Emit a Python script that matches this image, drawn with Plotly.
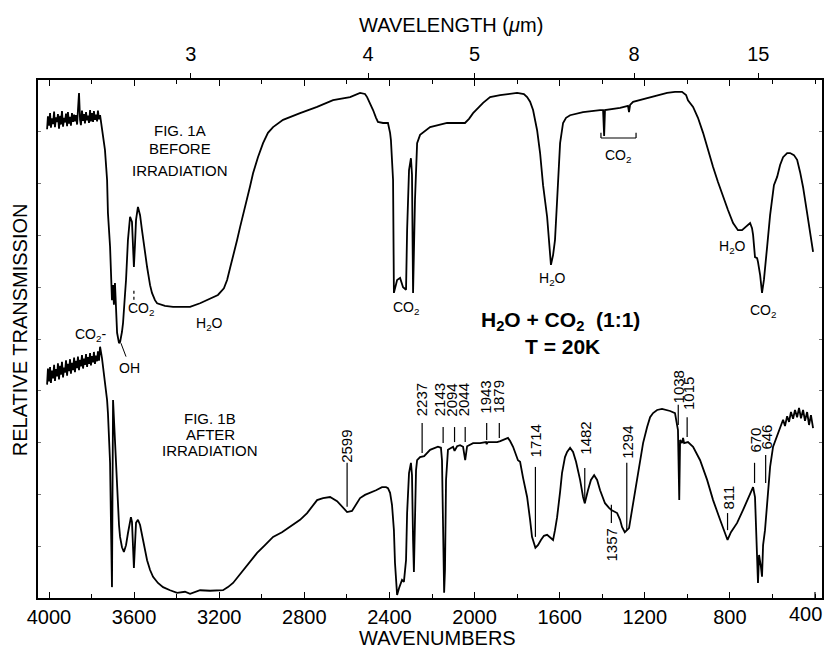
import plotly.graph_objects as go

# ---------------- data ----------------
# Wavenumber (cm-1) and relative transmission (arbitrary units, 0-100 over the frame)
top_wn = [4009, 4005, 4000, 3995, 3991, 3986, 3981, 3976, 3972, 3967,
          3962, 3958, 3953, 3948, 3944, 3939, 3934, 3929, 3925, 3920,
          3915, 3911, 3906, 3901, 3897, 3892, 3887, 3882, 3878, 3873,
          3868, 3864, 3859, 3854, 3850, 3845, 3840, 3835, 3831, 3826,
          3821, 3817, 3812, 3807, 3803, 3798, 3793, 3789, 3784, 3779,
          3774, 3770, 3765, 3760,
          3751, 3737, 3727, 3723, 3713, 3709, 3704, 3699, 3695, 3690,
          3685, 3680, 3671, 3666, 3657, 3652, 3643, 3638, 3629, 3619,
          3610, 3605, 3601, 3596, 3591, 3582, 3572, 3563, 3549, 3539,
          3525, 3516, 3502, 3492, 3455, 3417, 3384, 3337, 3290, 3257,
          3206, 3178, 3163, 3149, 3135, 3116, 3102, 3084, 3069, 3055,
          3041, 3018, 2994, 2971, 2947, 2900, 2820, 2740, 2665, 2585,
          2538, 2515, 2505, 2491, 2477, 2463, 2454, 2430, 2407, 2397,
          2393, 2383, 2379, 2364, 2350, 2336, 2322, 2317, 2308, 2299,
          2294, 2289, 2280, 2270, 2256, 2209, 2129, 2045, 2026, 2007,
          1960, 1927, 1880, 1800, 1768, 1753, 1739, 1725, 1706, 1692,
          1678, 1659, 1650, 1641, 1631, 1622, 1612, 1603, 1598, 1584,
          1570, 1551, 1490, 1410, 1396, 1391, 1387, 1316, 1279, 1274,
          1269, 1255, 1175, 1095, 1058, 1025, 1006, 997, 973, 950,
          926, 903, 879, 856, 832, 809, 785, 762, 743, 724,
          705, 696, 691, 682, 672, 668, 658, 649, 640, 625,
          611, 593, 578, 564, 550, 531, 517, 499, 484, 470,
          456, 437, 423, 414, 409]
top_T = [90.5, 93.0, 91.2, 93.6, 90.8, 92.6, 91.5, 93.9, 90.9, 92.8,
         91.9, 93.4, 90.6, 93.1, 91.4, 94.0, 91.0, 92.7, 91.8, 93.5,
         91.1, 93.8, 91.6, 92.9, 91.2, 93.6, 91.9, 93.3, 92.0, 93.2,
         91.4, 94.2, 97.5, 92.3, 91.3, 94.1, 92.1, 93.4, 91.6, 93.8,
         92.2, 93.1, 91.7, 94.2, 92.0, 93.6, 91.9, 94.0, 92.3, 93.3,
         92.0, 94.1, 92.4, 93.2,
         90.9, 86.5, 80.7, 74.3, 67.8, 61.4, 57.5, 60.4, 56.6, 60.8,
         55.6, 51.2, 49.2, 49.4, 51.4, 53.1, 58.5, 61.4, 69.1, 73.6,
         72.6, 69.1, 63.9, 68.1, 73.0, 75.5, 73.9, 71.0, 66.2, 63.9,
         60.4, 58.9, 57.5, 56.9, 56.4, 56.2, 56.2, 56.2, 56.9, 57.5,
         58.5, 59.8, 61.4, 63.7, 65.8, 69.1, 71.6, 74.5, 76.8, 79.5,
         82.0, 85.1, 87.8, 89.8, 90.9, 92.3, 93.6, 94.8, 96.1, 96.7,
         97.5, 97.3, 96.7, 95.6, 94.2, 92.7, 91.9, 91.7, 91.7, 89.8,
         88.4, 80.7, 58.9, 61.4, 61.8, 60.0, 59.5, 71.0, 82.6, 84.9,
         81.7, 58.9, 76.8, 87.8, 89.4, 90.9, 91.7, 91.7, 92.5, 93.6,
         95.6, 96.7, 97.1, 97.5, 97.3, 96.7, 95.8, 94.2, 90.3, 85.9,
         79.7, 73.6, 68.1, 64.3, 66.2, 69.1, 76.8, 84.6, 87.8, 91.7,
         92.7, 93.2, 93.8, 94.2, 94.2, 89.2, 94.2, 94.6, 95.0, 93.8,
         95.2, 95.8, 96.7, 97.5, 97.7, 97.7, 97.1, 96.1, 94.8, 92.7,
         89.8, 86.5, 83.2, 80.3, 77.4, 74.9, 72.4, 71.0, 71.0, 71.8,
         72.4, 71.4, 70.1, 65.8, 65.6, 64.9, 62.4, 58.9, 61.4, 67.8,
         73.9, 79.7, 81.3, 83.6, 85.1, 85.9, 85.9, 85.5, 84.6, 82.2,
         79.3, 74.3, 70.7, 68.5, 66.8]

bot_wn = [4009, 4005, 4000, 3995, 3991, 3986, 3981, 3976, 3972, 3967,
          3962, 3958, 3953, 3948, 3944, 3939, 3934, 3929, 3925, 3920,
          3915, 3911, 3906, 3901, 3897, 3892, 3887, 3882, 3878, 3873,
          3868, 3864, 3859, 3854, 3850, 3845, 3840, 3835, 3831, 3826,
          3821, 3817, 3812, 3807, 3803, 3798, 3793, 3789, 3784, 3779,
          3774, 3770, 3765, 3760,
          3751, 3737, 3727, 3723, 3718, 3713, 3709, 3704, 3699, 3695,
          3690, 3680, 3671, 3666, 3657, 3648, 3638, 3629, 3619, 3615,
          3610, 3605, 3601, 3596, 3591, 3582, 3572, 3558, 3539, 3525,
          3511, 3488, 3464, 3431, 3398, 3361, 3337, 3290, 3243, 3182,
          3159, 3135, 3112, 3088, 3055, 3022, 2985, 2947, 2905, 2867,
          2820, 2787, 2759, 2740, 2712, 2679, 2646, 2618, 2599, 2576,
          2557, 2538, 2515, 2491, 2463, 2435, 2416, 2407, 2397, 2388,
          2379, 2374, 2364, 2355, 2341, 2332, 2322, 2317, 2308, 2299,
          2294, 2289, 2285, 2280, 2275, 2270, 2256, 2237, 2233, 2209,
          2172, 2158, 2153, 2148, 2143, 2139, 2134, 2125, 2101, 2094,
          2082, 2068, 2054, 2044, 2040, 2035, 2007, 1974, 1946, 1943,
          1937, 1894, 1879, 1857, 1843, 1833, 1819, 1796, 1786, 1772,
          1753, 1739, 1730, 1714, 1702, 1688, 1674, 1659, 1645, 1631,
          1622, 1612, 1598, 1589, 1575, 1565, 1551, 1537, 1523, 1504,
          1490, 1482, 1467, 1453, 1438, 1424, 1410, 1387, 1368, 1357,
          1330, 1316, 1307, 1294, 1274, 1260, 1236, 1222, 1208, 1189,
          1175, 1161, 1142, 1119, 1081, 1058, 1048, 1044, 1038, 1034,
          1025, 1020, 1015, 997, 973, 940, 907, 879, 846, 823,
          811, 795, 766, 738, 705, 691, 682, 672, 668, 663,
          658, 654, 649, 644, 635, 625, 611, 597, 564, 550,
          541, 531, 522, 513, 503, 494, 484, 475, 466, 456,
          447, 437, 428, 419, 409]
bot_T = [41.2, 44.3, 41.8, 44.6, 41.5, 43.9, 42.4, 45.0, 41.9, 44.2,
         42.8, 45.3, 42.2, 44.8, 43.1, 45.6, 42.6, 44.5, 43.5, 45.9,
         42.9, 45.2, 43.8, 46.1, 43.3, 45.4, 44.0, 46.4, 43.6, 45.8,
         44.4, 46.6, 44.0, 46.0, 44.7, 46.9, 44.3, 46.2, 45.0, 47.1,
         44.6, 46.5, 45.2, 47.3, 44.9, 46.7, 45.5, 47.5, 45.2, 46.8,
         45.7, 47.6, 45.8, 48.5,
         46.3, 42.1, 38.2, 35.7, 30.5, 26.1, 15.1, 2.1, 38.2, 34.4,
         30.5, 19.5, 14.1, 11.8, 9.8, 8.9, 10.2, 12.5, 15.1, 15.6,
         14.7, 10.2, 5.8, 10.2, 14.5, 15.1, 14.1, 11.2, 7.3, 5.4,
         4.1, 2.9, 2.1, 1.5, 1.0, 1.2, 0.8, 1.5, 1.4, 1.5,
         2.1, 2.9, 4.1, 5.4, 6.9, 8.7, 10.2, 11.8, 12.7, 13.7,
         15.1, 16.4, 18.0, 18.9, 19.3, 19.5, 18.7, 17.4, 16.6, 16.8,
         18.0, 19.3, 19.9, 20.3, 20.8, 21.4, 21.4, 21.2, 20.3, 18.0,
         13.1, 6.8, 0.6, 1.9, 3.5, 3.1, 7.3, 16.4, 24.1, 26.1,
         23.7, 11.2, 5.0, 15.1, 24.7, 26.6, 27.2, 27.4, 27.6, 28.6,
         29.2, 29.0, 26.6, 15.1, 1.0, 5.4, 22.8, 28.6, 29.2, 28.4,
         29.3, 29.5, 29.2, 26.6, 27.6, 29.3, 29.9, 29.9, 30.1, 29.7,
         30.1, 30.1, 30.3, 30.7, 30.9, 30.3, 29.2, 26.6, 26.3, 23.2,
         19.5, 15.1, 11.8, 9.7, 10.2, 11.2, 12.0, 12.2, 11.6, 11.2,
         13.1, 15.6, 20.5, 24.1, 27.2, 28.2, 29.0, 28.2, 26.3, 22.8,
         19.5, 18.3, 20.8, 22.8, 23.7, 22.8, 20.8, 18.3, 17.4, 17.0,
         16.4, 15.1, 13.7, 12.7, 13.5, 17.0, 22.8, 26.3, 29.9, 33.0,
         34.9, 35.7, 36.3, 36.5, 36.1, 35.7, 33.8, 32.4, 18.9, 30.5,
         29.9, 30.9, 29.9, 30.1, 29.2, 26.6, 22.8, 18.9, 15.1, 12.7,
         11.2, 12.7, 14.5, 17.0, 20.3, 21.4, 19.5, 9.8, 2.9, 8.3,
         7.3, 6.0, 4.1, 10.2, 13.1, 17.6, 25.3, 29.2, 33.0, 34.4,
         33.2, 35.1, 34.0, 35.9, 34.6, 36.3, 34.9, 36.7, 34.7, 36.3,
         34.2, 35.9, 33.4, 35.3, 32.8]

# labelled bands of the irradiated sample (cm-1)
peak_wn = [2599, 2237, 2143, 2094, 2044, 1943, 1879, 1714,
           1482, 1357, 1294, 1038, 1015, 811, 670, 646]

wn_ticks = [4000, 3600, 3200, 2800, 2400, 2000, 1600, 1200, 800, 400]
wl_ticks = [3, 4, 5, 8, 15]          # micrometres

# ---------------- layout helpers (positions / styles) ----------------
FONT = "Liberation Sans, Arial, Helvetica, sans-serif"
X_RANGE = [4051.7, 367.1]
PX_PER_WN = 784 / (X_RANGE[0] - X_RANGE[1])
BODY = 8   # default page margin of the written html page

# per peak label: text centre (T), leader top/bottom (T), text x-shift px, leader x-shift px
peak_text_T = [29.2, 38.2, 38.2, 38.2, 38.2, 38.8, 38.8, 30.3,
               30.9, 10.2, 30.1, 40.7, 39.4, 19.3, 30.5, 31.1]
peak_lead_T = [(26.1, 17.6), (33.8, 28.0), (33.0, 29.9), (33.0, 30.1),
               (33.0, 30.1), (33.8, 30.5), (33.8, 30.9), (25.3, 11.8),
               (25.1, 18.3), (18.0, 14.5), (26.1, 13.1), (37.3, 33.4),
               (34.9, 31.1), (16.4, 13.1), (26.1, 22.2), (27.6, 22.2)]
peak_text_dx = [0, -3, -5, -3, -2, -2, -2, 0, 1, 0, 2, -1, 5, 0, -3, 4]
peak_lead_dx = [0, -2, -1, 0, 0, 0, -1, 0, 0, 0, 2, -1, 3, 0, -3, 3]

fig = go.Figure()
line_style = dict(color="black", width=1.8)
fig.add_trace(go.Scatter(x=top_wn, y=top_T, mode="lines", line=line_style,
                         hoverinfo="skip", showlegend=False))
fig.add_trace(go.Scatter(x=bot_wn, y=bot_T, mode="lines", line=line_style,
                         hoverinfo="skip", showlegend=False))
# invisible trace to activate the wavelength axis
fig.add_trace(go.Scatter(x=[None], y=[None], xaxis="x2", mode="lines",
                         hoverinfo="skip", showlegend=False))

shapes = []
annotations = []

def txt(text, x, y, size=14, xanchor="center", yanchor="middle", angle=0,
        xshift=0, xref="x", yref="y"):
    annotations.append(dict(text=text, x=x, y=y, xref=xref, yref=yref,
                            showarrow=False, xanchor=xanchor, yanchor=yanchor,
                            textangle=angle, xshift=xshift,
                            font=dict(family=FONT, size=size, color="black")))

def seg(x0, y0, x1, y1, width=1.2, dash="solid"):
    shapes.append(dict(type="line", xref="x", yref="y", x0=x0, y0=y0, x1=x1, y1=y1,
                       line=dict(color="black", width=width, dash=dash)))

# peak labels of Fig. 1B
for wn, tT, (l0, l1), tdx, ldx in zip(peak_wn, peak_text_T, peak_lead_T,
                                      peak_text_dx, peak_lead_dx):
    txt(str(wn), wn, tT, size=15, angle=-90, xshift=tdx)
    xl = wn - ldx / PX_PER_WN
    seg(xl, l0, xl, l1)

# figure captions
for line, T in zip(["FIG. 1A", "BEFORE", "IRRADIATION"], [90.2, 86.7, 82.6]):
    txt(line, 3384, T, size=15)
for line, T in zip(["FIG. 1B", "AFTER", "IRRADIATION"], [34.7, 31.6, 28.4]):
    txt(line, 3243, T, size=15)

# band assignments
txt("CO<sub>2</sub>", 3566, 55.8, size=14)
seg(3601, 57.6, 3601, 59.8, width=1.2, dash="dot")
txt("H<sub>2</sub>O", 3248, 52.9, size=14)
txt("CO<sub>2</sub>-", 3721, 50.8, size=14, xanchor="right")
txt("OH", 3624, 44.4, size=14)
seg(3662, 49.2, 3638, 46.6, width=1.0)
txt("CO<sub>2</sub>", 2322, 56.0, size=14)
txt("H<sub>2</sub>O", 1636, 61.6, size=14)
txt("CO<sub>2</sub>", 1326, 85.3, size=14)
seg(1406, 88.8, 1241, 88.8, width=1.2)
seg(1406, 88.8, 1406, 89.8, width=1.2)
seg(1241, 88.8, 1241, 89.8, width=1.2)
txt("H<sub>2</sub>O", 786, 67.8, size=14)
txt("CO<sub>2</sub>", 644, 55.4, size=14)

txt("<b>H<sub>2</sub>O + CO<sub>2</sub>  (1:1)</b>", 1594, 53.5, size=21)
txt("<b>T = 20K</b>", 1589, 48.6, size=21)

# axis titles (paper coordinates of the plotting frame)
txt("WAVELENGTH (<i>\u03bc</i>m)", (451 - 38) / 784, 1.106, size=20,
    xref="paper", yref="paper")
txt("WAVENUMBERS", (437 - 38) / 784, -0.077, size=20,
    xref="paper", yref="paper")
txt("RELATIVE TRANSMISSION", (20 - 38) / 784, 0.517, size=20, angle=-90,
    xref="paper", yref="paper")

# the last tick label sits at the page edge: draw it as text, kept inside the page
edge_tick = wn_ticks[-1]
annotations.append(dict(text=str(edge_tick), x=edge_tick, xref="x", y=-0.031,
                        yref="paper", showarrow=False, xanchor="right",
                        yanchor="middle", xshift=9,
                        font=dict(family=FONT, size=20, color="black")))
shapes.append(dict(type="line", xref="x", yref="paper", x0=edge_tick, x1=edge_tick,
                   y0=0, y1=6 / 518, line=dict(color="black", width=1.2)))

axis_font = dict(family=FONT, size=20, color="black")
fig.update_layout(
    width=833, height=665,
    margin=dict(l=38 - BODY, r=833 - 822 + BODY, t=80 - BODY, b=665 - 598 + BODY),
    paper_bgcolor="white", plot_bgcolor="white",
    showlegend=False,
    shapes=shapes, annotations=annotations,
    xaxis=dict(range=X_RANGE, tickmode="array", tickvals=wn_ticks[:-1],
               ticks="inside", ticklen=6, tickwidth=1.2, tickcolor="black",
               minor=dict(tickmode="linear", tick0=0, dtick=200, ticks="inside",
                          ticklen=4, tickwidth=1.1, tickcolor="black"),
               showline=True, linewidth=1.6, linecolor="black", mirror="ticks",
               showgrid=False, zeroline=False, tickfont=axis_font),
    xaxis2=dict(overlaying="x", side="top", range=X_RANGE, tickmode="array",
                tickvals=[1e4 / w for w in wl_ticks],
                ticktext=[str(w) for w in wl_ticks],
                ticks="outside", ticklen=6, tickwidth=1.3, tickcolor="black",
                ticklabelstandoff=4,
                showline=False, showgrid=False, zeroline=False, tickfont=axis_font),
    yaxis=dict(range=[0, 100], showticklabels=False, ticks="inside", ticklen=3,
               dtick=10, tickcolor="#777", showline=True, linewidth=1.6,
               linecolor="black", mirror="ticks", showgrid=False, zeroline=False),
)

fig.write_html("out.html")
